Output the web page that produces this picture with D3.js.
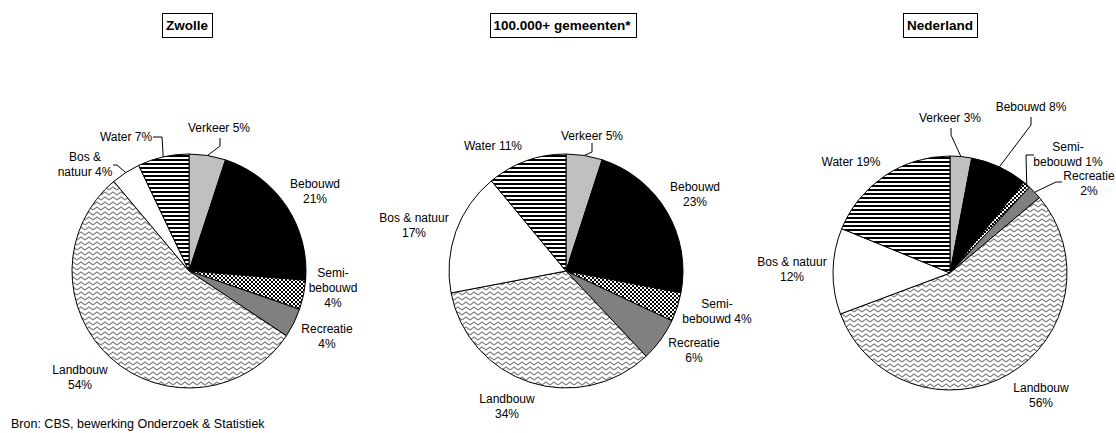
<!DOCTYPE html>
<html>
<head>
<meta charset="utf-8">
<script src="https://cdn.jsdelivr.net/npm/d3@7"></script>
<style>
  body { margin: 0; background: #fff; }
  svg text { font-family: Arial, "Liberation Sans", sans-serif; fill: #000; }
</style>
</head>
<body>
<div id="chart"></div>
<script>
const categories = ["Verkeer", "Bebouwd", "Semi-bebouwd", "Recreatie", "Landbouw", "Bos & natuur", "Water"];
const regions = ["Zwolle", "100.000+ gemeenten*", "Nederland"];
const zwolleValues = [5, 21, 4, 4, 54, 4, 7];
const grootValues = [5, 23, 4, 6, 34, 17, 11];
const nederlandValues = [3, 8, 1, 2, 56, 12, 19];
const sourceNote = "Bron: CBS, bewerking Onderzoek & Statistiek";

// label text per slice (line breaks as in the original)
const zwolleLabels = [["Verkeer 5%"], ["Bebouwd", "21%"], ["Semi-", "bebouwd", "4%"], ["Recreatie", "4%"], ["Landbouw", "54%"], ["Bos &", "natuur 4%"], ["Water 7%"]];
const grootLabels = [["Verkeer 5%"], ["Bebouwd", "23%"], ["Semi-", "bebouwd 4%"], ["Recreatie", "6%"], ["Landbouw", "34%"], ["Bos & natuur", "17%"], ["Water 11%"]];
const nederlandLabels = [["Verkeer 3%"], ["Bebouwd 8%"], ["Semi-", "bebouwd 1%"], ["Recreatie", "2%"], ["Landbouw", "56%"], ["Bos & natuur", "12%"], ["Water 19%"]];

const width = 1116, height = 433;
const radius = 117;

// layout: pie centres, label positions (relative to centre), leader lines
const layout = [
  {
    cx: 189, cy: 271, titleX: 187,
    labelPos: [[30, -143], [126, -87], [144, 2], [138, 58], [-109, 99], [-104, -114], [-63, -134]],
    leaders: { 0: [[31, -133], [31, -125]], 5: [[-76, -106], [-72, -106]], 6: [[-36, -134], [-27, -134]] }
  },
  {
    cx: 566, cy: 271, titleX: 562,
    labelPos: [[26, -135], [129, -84], [151, 33], [128, 72], [-59, 128], [-152, -53], [-73, -125]],
    leaders: { 0: [[26, -128], [26, -119]] }
  },
  {
    cx: 950, cy: 273, titleX: 940,
    labelPos: [[0, -155], [81, -166], [118, -126], [139, -97], [91, 115], [-158, -11], [-99, -111]],
    leaders: { 0: [[1, -145], [1, -138]], 1: [[81, -156], [81, -148]], 2: [[84, -118], [76, -118]], 3: [[112, -91], [106, -91]] }
  }
];

const svg = d3.select("#chart").append("svg")
  .attr("width", width)
  .attr("height", height);

const defs = svg.append("defs");

// Semi-bebouwd: fine checker
const pChk = defs.append("pattern").attr("id", "p-check")
  .attr("patternUnits", "userSpaceOnUse").attr("width", 4).attr("height", 4);
pChk.append("rect").attr("width", 4).attr("height", 4).attr("fill", "#fff");
pChk.append("rect").attr("width", 2).attr("height", 2).attr("fill", "#000");
pChk.append("rect").attr("x", 2).attr("y", 2).attr("width", 2).attr("height", 2).attr("fill", "#000");

// Landbouw: zigzag chevrons
const pZig = defs.append("pattern").attr("id", "p-zig")
  .attr("patternUnits", "userSpaceOnUse").attr("width", 8).attr("height", 5);
pZig.append("rect").attr("width", 8).attr("height", 5).attr("fill", "#fff");
pZig.append("path").attr("d", "M0,4 L4,1 L8,4")
  .attr("fill", "none").attr("stroke", "#808080").attr("stroke-width", 1.1);

// Water: horizontal stripes
const pStripe = defs.append("pattern").attr("id", "p-stripe")
  .attr("patternUnits", "userSpaceOnUse").attr("width", 4).attr("height", 4);
pStripe.append("rect").attr("width", 4).attr("height", 4).attr("fill", "#fff");
pStripe.append("rect").attr("width", 4).attr("height", 2).attr("fill", "#000");

const fills = {
  "Verkeer": "#c0c0c0",
  "Bebouwd": "#000",
  "Semi-bebouwd": "url(#p-check)",
  "Recreatie": "#808080",
  "Landbouw": "url(#p-zig)",
  "Bos & natuur": "#fff",
  "Water": "url(#p-stripe)"
};

const pie = d3.pie().sort(null).value(d => d.value);
const arc = d3.arc().innerRadius(0).outerRadius(radius);

const datasets = [zwolleValues, grootValues, nederlandValues];
const labelSets = [zwolleLabels, grootLabels, nederlandLabels];

datasets.forEach((values, i) => {
  const lay = layout[i];
  const rows = categories.map((c, j) => ({ key: c, value: values[j], lines: labelSets[i][j] }));
  const arcs = pie(rows);

  const g = svg.append("g")
    .attr("transform", `translate(${lay.cx},${lay.cy})`);

  g.selectAll("path.slice")
    .data(arcs)
    .enter().append("path")
    .attr("class", "slice")
    .attr("d", arc)
    .attr("fill", d => fills[d.data.key])
    .attr("stroke", "#000")
    .attr("stroke-width", 1);

  // leader lines
  Object.keys(lay.leaders).forEach(k => {
    const a = arcs[+k];
    const mid = (a.startAngle + a.endAngle) / 2;
    const end = [radius * Math.sin(mid), -radius * Math.cos(mid)];
    const pts = lay.leaders[k].concat([end]);
    g.append("path")
      .attr("d", d3.line()(pts))
      .attr("fill", "none")
      .attr("stroke", "#000")
      .attr("stroke-width", 1);
  });

  // labels
  arcs.forEach((a, j) => {
    const [lx, ly] = lay.labelPos[j];
    const t = g.append("text")
      .attr("x", lx)
      .attr("y", ly)
      .attr("text-anchor", "middle")
      .style("font-size", "12px");
    a.data.lines.forEach((line, n) => {
      t.append("tspan")
        .attr("x", lx)
        .attr("y", ly + n * 15)
        .attr("dy", "0.35em")
        .text(line);
    });
  });

  // boxed title
  const title = svg.append("text")
    .attr("x", lay.titleX)
    .attr("y", 25)
    .attr("dy", "0.35em")
    .attr("text-anchor", "middle")
    .style("font-size", "13.5px")
    .style("font-weight", "bold")
    .text(regions[i]);
  const bb = title.node().getBBox();
  svg.insert("rect", () => title.node())
    .attr("x", Math.round(bb.x - 4) + 0.5)
    .attr("y", 13.5)
    .attr("width", Math.round(bb.width + 8))
    .attr("height", 24)
    .attr("fill", "#fff")
    .attr("stroke", "#000")
    .attr("stroke-width", 1);
});

svg.append("text")
  .attr("x", 11)
  .attr("y", 424)
  .attr("dy", "0.35em")
  .style("font-size", "12.5px")
  .text(sourceNote);
</script>
</body>
</html>
